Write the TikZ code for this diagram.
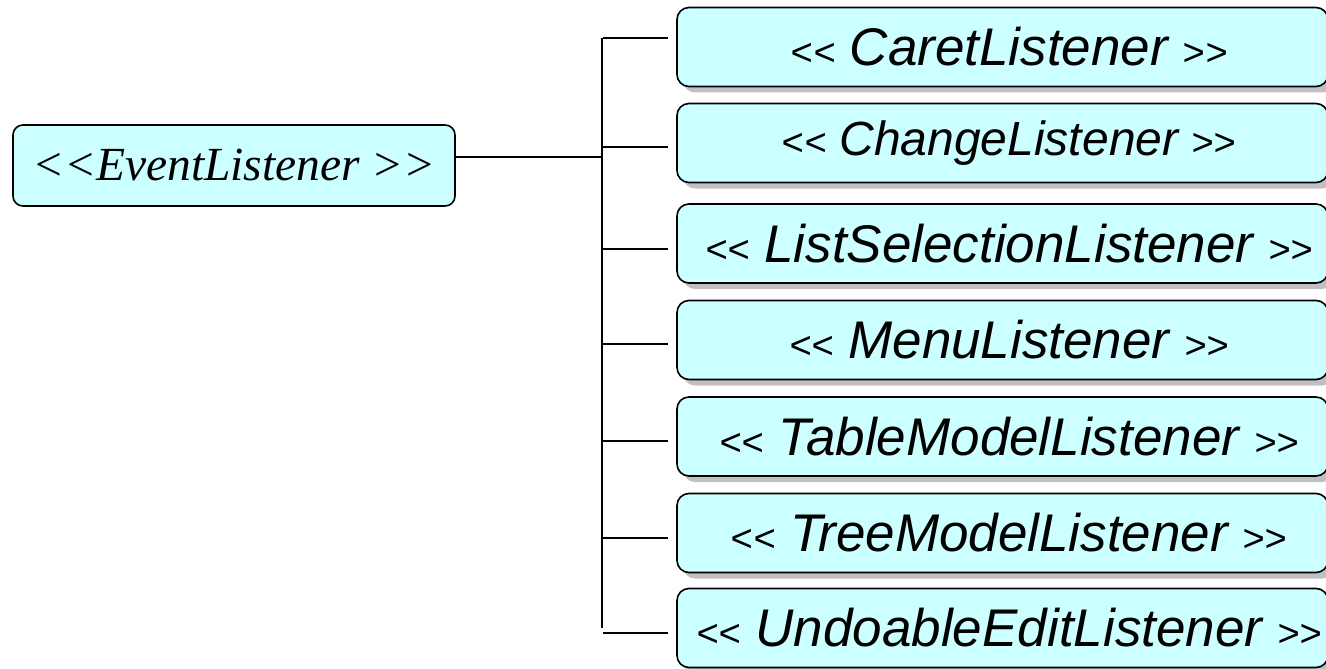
\documentclass[tikz,border=0pt]{standalone}
\usepackage{fontspec}
\setmainfont{Liberation Serif}
\newfontfamily\arialfont{Liberation Sans}
\usetikzlibrary{shadows}
\definecolor{boxfill}{HTML}{CCFFFF}
\definecolor{shadowgray}{HTML}{C0C0C0}
\newcommand\mylt{<\kern0pt<}
\newcommand\mygt{>\kern0pt>}
\newcommand\rtext[2][53]{\arialfont\itshape\hspace*{13pt}{\fontsize{38}{40}\selectfont\mylt}{\fontsize{#1}{60}\selectfont\ #2\ }{\fontsize{38}{40}\selectfont\mygt}}
\begin{document}
\begin{tikzpicture}[x=1pt,y=-1pt,
  leftbox/.style={draw=black, line width=1.6pt, fill=boxfill, rounded corners=10pt,
    minimum width=442pt, minimum height=81pt, inner sep=0pt},
  rightbox/.style={draw=black, line width=1.6pt, fill=boxfill, rounded corners=12pt,
    minimum width=651pt, minimum height=79pt, inner sep=0pt,
    drop shadow={shadow xshift=6pt, shadow yshift=-6pt, fill=shadowgray, opacity=1}},
  wire/.style={draw=black, line width=1.5pt}]
\useasboundingbox (0,0) rectangle (1326,669);
\node[leftbox] (ev) at (234,165.5) {\itshape\fontsize{47.5}{56}\selectfont \mylt EventListener \mygt};
\node[rightbox] (b1) at (1002.5,47) {\rtext{CaretListener}};
\node[rightbox] (b2) at (1002.5,143) {\rtext[48]{ChangeListener}};
\node[rightbox] (b3) at (1002.5,243.5) {\rtext{ListSelectionListener}};
\node[rightbox] (b4) at (1002.5,340) {\rtext{MenuListener}};
\node[rightbox] (b5) at (1002.5,436.5) {\rtext{TableModelListener}};
\node[rightbox] (b6) at (1002.5,533) {\rtext{TreeModelListener}};
\node[rightbox] (b7) at (1002.5,628) {\rtext{UndoableEditListener}};
\coordinate (evout) at (ev.east |- 0,157);
\coordinate (junc) at (602,157);
\coordinate (bustop) at (602,38);
\coordinate (busbot) at (602,628);
\draw[wire] (evout) -- (junc);
\draw[wire] (bustop) -- (busbot);
\foreach \i/\y in {1/38,2/147,3/249,4/344,5/441,6/538,7/633}{
  \coordinate (s\i) at (603,\y);
  \coordinate (e\i) at (668,\y);
  \draw[wire] (s\i) -- (e\i);
}
\end{tikzpicture}
\end{document}
